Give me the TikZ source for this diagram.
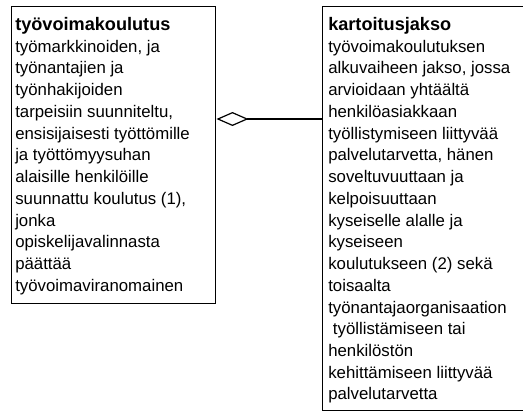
\documentclass[tikz,border=0pt]{standalone}
\usepackage{fontspec}
\setmainfont{Liberation Sans}
\usetikzlibrary{arrows.meta}
\newcommand{\classtitle}[1]{{\fontsize{13.6pt}{16.3pt}\selectfont\bfseries #1}}
\begin{document}
\begin{tikzpicture}[x=0.75pt,y=-0.75pt]
\tikzset{
  classbox/.style={draw=black, line width=1.1pt, anchor=north west, inner sep=0pt},
  boxtext/.style={anchor=base west, inner sep=0pt, font=\fontsize{12.6pt}{16.3pt}\selectfont},
  assoc/.style={draw=black, line width=0.9pt, -{Diamond[open, length=24pt, width=10.5pt, line width=0.9pt]}},
}
\useasboundingbox (0,0) rectangle (523,412);
\node[classbox, minimum width=153pt, minimum height=222.75pt] (lbox) at (11,6) {};
\node[classbox, minimum width=160pt, minimum height=303pt] (rbox) at (322,6) {};
\node[boxtext] (ltext) at (15,30.5) {\parbox[t]{190pt}{\raggedright
\classtitle{työvoimakoulutus}\\
työmarkkinoiden, ja\\
työnantajien ja\\
työnhakijoiden\\
tarpeisiin suunniteltu,\\
ensisijaisesti työttömille\\
ja työttömyysuhan\\
alaisille henkilöille\\
suunnattu koulutus (1),\\
jonka\\
opiskelijavalinnasta\\
päättää\\
työvoimaviranomainen}};
\node[boxtext] (rtext) at (328,30.5) {\parbox[t]{190pt}{\raggedright
\classtitle{kartoitusjakso}\\
työvoimakoulutuksen\\
alkuvaiheen jakso, jossa\\
arvioidaan yhtäältä\\
henkilöasiakkaan\\
työllistymiseen liittyvää\\
palvelutarvetta, hänen\\
soveltuvuuttaan ja\\
kelpoisuuttaan\\
kyseiselle alalle ja\\
kyseiseen\\
koulutukseen (2) sekä\\
toisaalta\\
työnantajaorganisaation\\
\hspace*{.28em}työllistämiseen tai\\
henkilöstön\\
kehittämiseen liittyvää\\
palvelutarvetta}};
\coordinate (lvl) at (0,119);
\draw[assoc] (rbox.west |- lvl) -- (lbox.east |- lvl);
\end{tikzpicture}
\end{document}
